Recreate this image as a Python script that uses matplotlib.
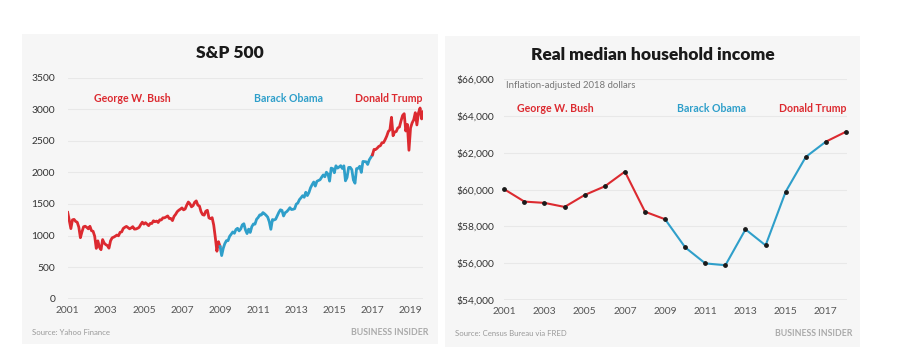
import numpy as np
import matplotlib
matplotlib.use("Agg")
import matplotlib.pyplot as plt
from matplotlib.patches import Rectangle

# S&P 500, roughly monthly readings from Jan 2001 to Sep 2019
sp500 = [
    1366, 1240, 1110, 1249, 1256, 1224, 1211, 1134, 966, 1060, 1139, 1148,   # 2001
    1130, 1107, 1147, 1077, 1067, 990, 797, 916, 815, 776, 936, 880,         # 2002
    856, 841, 800, 917, 964, 975, 990, 1008, 996, 1051, 1058, 1112,          # 2003
    1131, 1145, 1126, 1107, 1121, 1141, 1102, 1104, 1115, 1130, 1174, 1212,  # 2004
    1181, 1204, 1181, 1157, 1192, 1191, 1234, 1220, 1229, 1207, 1249, 1248,  # 2005
    1280, 1281, 1295, 1311, 1270, 1270, 1237, 1304, 1336, 1378, 1401, 1418,  # 2006
    1438, 1407, 1421, 1482, 1531, 1503, 1455, 1474, 1527, 1549, 1481, 1468,  # 2007
    1379, 1331, 1323, 1386, 1400, 1280, 1267, 1283, 1166, 969, 752, 903,     # 2008
    826, 683, 798, 873, 919, 919, 987, 1021, 1057, 1036, 1096, 1115,         # 2009
    1074, 1104, 1169, 1187, 1089, 1031, 1102, 1049, 1141, 1183, 1181, 1258,  # 2010
    1286, 1327, 1326, 1364, 1345, 1321, 1292, 1219, 1099, 1253, 1247, 1258,  # 2011
    1312, 1366, 1408, 1398, 1310, 1362, 1379, 1407, 1441, 1412, 1416, 1426,  # 2012
    1498, 1515, 1569, 1598, 1631, 1606, 1686, 1633, 1682, 1757, 1806, 1848,  # 2013
    1783, 1859, 1872, 1884, 1924, 1960, 1931, 2003, 1972, 1862, 2068, 2059,  # 2014
    1995, 2105, 2068, 2086, 2107, 2063, 2104, 1867, 1920, 2079, 2080, 2044,  # 2015
    1880, 1829, 2060, 2065, 2097, 2000, 2174, 2171, 2168, 2126, 2199, 2239,  # 2016
    2279, 2364, 2363, 2384, 2412, 2423, 2470, 2472, 2519, 2575, 2648, 2674,  # 2017
    2873, 2581, 2641, 2648, 2705, 2718, 2816, 2902, 2930, 2656, 2760, 2351,  # 2018
    2704, 2784, 2834, 2946, 2752, 2942, 3020, 2847, 2960,                    # 2019
]
sp_years = 2001 + np.arange(len(sp500)) / 12

income_years = list(range(2001, 2019))
income = [60020, 59350, 59280, 59060, 59710, 60180, 60980, 58800, 58390,
          56860, 55990, 55890, 57840, 56970, 59890, 61780, 62610, 63150]

RED = "#dc2a30"
BLUE = "#2f9fca"
PANEL = "#f6f6f6"
GRID = "#e8e8e8"
FONT = "Lato"

plt.rcParams["font.family"] = [FONT, "DejaVu Sans"]

W, H = 899, 356
fig = plt.figure(figsize=(W / 100, H / 100), dpi=100)
fig.patch.set_facecolor("white")


def px_rect(x0, y0, x1, y1):
    return Rectangle((x0 / W, 1 - y1 / H), (x1 - x0) / W, (y1 - y0) / H,
                     transform=fig.transFigure, facecolor=PANEL,
                     edgecolor="none", zorder=-5)


fig.patches.append(px_rect(22, 34, 438, 344))
fig.patches.append(px_rect(445, 36, 860, 347))


def style_axes(ax):
    ax.set_facecolor("none")
    for s in ax.spines.values():
        s.set_visible(False)
    ax.grid(axis="y", color=GRID, linewidth=0.8)
    ax.set_axisbelow(True)
    ax.tick_params(length=0, labelsize=7.4, colors="#333333")
    ax.tick_params(axis="x", pad=5, colors="#555555")


# ---- S&P 500 ----
ax1 = fig.add_axes([67.7 / W, 1 - 298.7 / H, (423.3 - 67.7) / W, (298.7 - 77.7) / H])
style_axes(ax1)
ax1.tick_params(axis="y", pad=9)
ax1.set_xlim(2001, 2019.67)
ax1.set_ylim(0, 3500)
ax1.set_yticks(range(0, 3501, 500))
ax1.set_xticks(range(2001, 2020, 2))
ax1.axhline(0, color="#b5b5b5", linewidth=1.0, zorder=1)

m_bush = sp_years <= 2009.0
m_obama = (sp_years >= 2009.0) & (sp_years <= 2017.0)
m_trump = sp_years >= 2017.0
ax1.plot(sp_years[m_bush], np.array(sp500)[m_bush], color=RED, lw=2.0, zorder=3)
ax1.plot(sp_years[m_obama], np.array(sp500)[m_obama], color=BLUE, lw=2.0, zorder=3)
ax1.plot(sp_years[m_trump], np.array(sp500)[m_trump], color=RED, lw=2.0, zorder=3)

lab = dict(fontsize=7.6, fontweight="bold", va="center")
ax1.text(2002.38, 3178, "George W. Bush", color=RED, ha="left", **lab)
ax1.text(2012.6, 3178, "Barack Obama", color=BLUE, ha="center", **lab)
ax1.text(2019.65, 3178, "Donald Trump", color=RED, ha="right", **lab)

# ---- Real median household income ----
ax2 = fig.add_axes([504.3 / W, 1 - 300 / H, (846.6 - 504.3) / W, (300 - 79.3) / H])
style_axes(ax2)
ax2.tick_params(axis="y", pad=7)
ax2.set_xlim(2001, 2018.03)
ax2.set_ylim(54000, 66000)
ax2.set_yticks(range(54000, 66001, 2000))
ax2.set_yticklabels(["${:,}".format(v) for v in range(54000, 66001, 2000)])
ax2.set_xticks(range(2001, 2018, 2))
ax2.axhline(54000, color="#b5b5b5", linewidth=1.0, zorder=1)

iy = np.array(income_years)
iv = np.array(income)
ax2.plot(iy[iy <= 2009], iv[iy <= 2009], color=RED, lw=1.5, zorder=3, clip_on=False)
ax2.plot(iy[(iy >= 2009) & (iy <= 2017)], iv[(iy >= 2009) & (iy <= 2017)],
         color=BLUE, lw=1.5, zorder=3, clip_on=False)
ax2.plot(iy[iy >= 2017], iv[iy >= 2017], color=RED, lw=1.5, zorder=3, clip_on=False)
ax2.scatter(iy, iv, s=6, color="#1a1a1a", zorder=4, clip_on=False)

ax2.text(2001.08, 65640, "Inflation-adjusted 2018 dollars", color="#777777",
         fontsize=6.9, ha="left", va="center")
ax2.text(2001.63, 64400, "George W. Bush", color=RED, ha="left", **lab)
ax2.text(2009.6, 64400, "Barack Obama", color=BLUE, ha="left", **lab)
ax2.text(2018.04, 64400, "Donald Trump", color=RED, ha="right", **lab)

# ---- titles and footers ----
fig.text(230 / W, 1 - 53 / H, "S&P 500", fontsize=12.5, fontweight="heavy",
         ha="center", va="center", color="#1a1a1a")
fig.text(653 / W, 1 - 55 / H, "Real median household income", fontsize=12.5,
         fontweight="heavy", ha="center", va="center", color="#1a1a1a")

foot = dict(fontsize=5.6, color="#999999", va="center")
fig.text(32 / W, 1 - 332.5 / H, "Source: Yahoo Finance", ha="left", **foot)
fig.text(455 / W, 1 - 333 / H, "Source: Census Bureau via FRED", ha="left", **foot)
bi = dict(fontsize=6.3, color="#aaaaaa", va="center", ha="right", fontweight="bold")
fig.text(428 / W, 1 - 332.5 / H, "BUSINESS INSIDER", **bi)
fig.text(852 / W, 1 - 333 / H, "BUSINESS INSIDER", **bi)

fig.savefig("out.png", dpi=100, facecolor="white")
